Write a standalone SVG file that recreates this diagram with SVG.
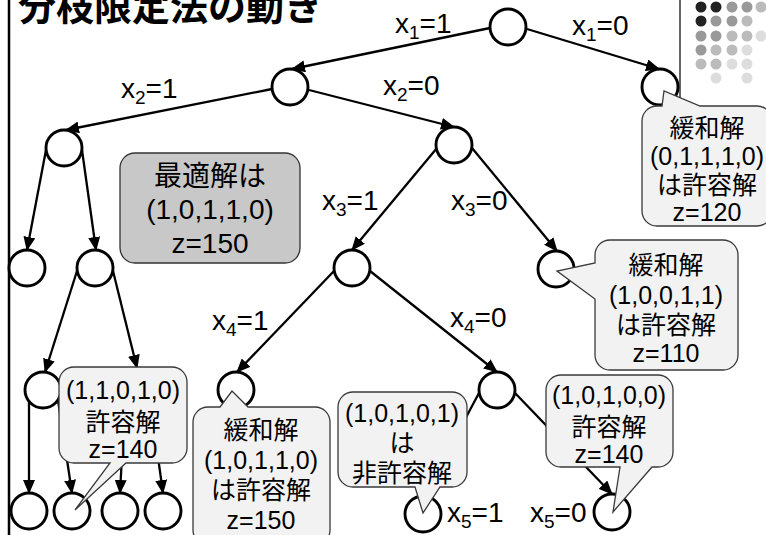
<svg xmlns="http://www.w3.org/2000/svg" width="766" height="535" viewBox="0 0 766 535">
<style>
.n{fill:#fff;stroke:#000;stroke-width:2.9}
.e{stroke:#000;stroke-width:2.3;fill:none;marker-end:url(#ah)}
.lbl{font-family:"Liberation Sans",Arial,sans-serif;font-size:28px;fill:#000}
.co{fill:#f2f2f2;stroke:#3a3a3a;stroke-width:1.3}
.ct{font-family:"Liberation Sans","Noto Sans CJK JP",sans-serif;font-size:25px;text-anchor:middle;fill:#000}
.gt{font-family:"Liberation Sans","Noto Sans CJK JP",sans-serif;font-size:28px;text-anchor:middle;fill:#000}
.d1{fill:#222}.d2{fill:#999}.d3{fill:#bbb}.d4{fill:#ddd}
</style>
<defs>
<marker id="ah" markerUnits="userSpaceOnUse" viewBox="0 0 14 12" refX="13" refY="6" markerWidth="14" markerHeight="12" orient="auto">
<path d="M0,0 L14,6 L0,12 Z" fill="#000"/>
</marker>
</defs>
<rect width="766" height="535" fill="#fff"/>
<g id="frame">
<line x1="9" y1="0" x2="9" y2="535" stroke="#000" stroke-width="2.5"/>
<line x1="680" y1="0" x2="680" y2="110" stroke="#333" stroke-width="1.5"/>
<text x="18" y="20" font-family="'Noto Sans CJK JP',sans-serif" font-weight="bold" font-size="38">分枝限定法の動き</text>
</g>
<g id="dots">
<circle class="d1" cx="701" cy="7" r="5.5"/><circle class="d1" cx="716" cy="7" r="5.5"/><circle class="d2" cx="732" cy="7" r="5.5"/><circle class="d2" cx="747" cy="7" r="5.5"/><circle class="d3" cx="761" cy="7" r="5.5"/>
<circle class="d1" cx="701" cy="21" r="5.5"/><circle class="d2" cx="716" cy="21" r="5.5"/><circle class="d2" cx="732" cy="21" r="5.5"/><circle class="d3" cx="747" cy="21" r="5.5"/>
<circle class="d2" cx="701" cy="36" r="5.5"/><circle class="d2" cx="716" cy="36" r="5.5"/><circle class="d3" cx="732" cy="36" r="5.5"/><circle class="d3" cx="747" cy="36" r="5.5"/><circle class="d4" cx="761" cy="36" r="5.5"/>
<circle class="d2" cx="701" cy="50" r="5.5"/><circle class="d3" cx="716" cy="50" r="5.5"/><circle class="d3" cx="732" cy="50" r="5.5"/><circle class="d4" cx="747" cy="50" r="5.5"/>
<circle class="d3" cx="701" cy="64" r="5.5"/><circle class="d3" cx="716" cy="64" r="5.5"/><circle class="d4" cx="732" cy="64" r="5.5"/><circle class="d4" cx="747" cy="64" r="5.5"/>
<circle class="d4" cx="716" cy="78" r="5.5"/><circle class="d4" cx="747" cy="78" r="5.5"/>
</g>
<g id="connectors">
<line class="e" x1="490" y1="28" x2="292" y2="69"/>
<line class="e" x1="527" y1="29" x2="659" y2="69"/>
<line class="e" x1="272" y1="89" x2="66" y2="130"/>
<line class="e" x1="309" y1="90" x2="454" y2="127"/>
<line class="e" x1="46" y1="150" x2="27" y2="250"/>
<line class="e" x1="82" y1="150" x2="96" y2="250"/>
<line class="e" x1="437" y1="148" x2="352" y2="250"/>
<line class="e" x1="472" y1="148" x2="557" y2="251"/>
<line class="e" x1="77" y1="271" x2="45" y2="372"/>
<line class="e" x1="113" y1="271" x2="137" y2="368"/>
<line class="e" x1="334" y1="271" x2="237" y2="372"/>
<line class="e" x1="370" y1="271" x2="497" y2="372"/>
<line class="e" x1="29" y1="400" x2="29" y2="493"/>
<line class="e" x1="58" y1="400" x2="72" y2="493"/>
<line class="e" x1="125" y1="400" x2="120" y2="493"/>
<line class="e" x1="150" y1="400" x2="163" y2="493"/>
<line class="e" x1="479" y1="393" x2="424" y2="496"/>
<line class="e" x1="515" y1="393" x2="612" y2="494"/>
<text class="lbl" x="395" y="33">x<tspan font-size="19" dy="6">1</tspan><tspan dy="-6">=1</tspan></text>
<text class="lbl" x="572" y="35">x<tspan font-size="19" dy="6">1</tspan><tspan dy="-6">=0</tspan></text>
<text class="lbl" x="121" y="98">x<tspan font-size="19" dy="6">2</tspan><tspan dy="-6">=1</tspan></text>
<text class="lbl" x="383" y="95">x<tspan font-size="19" dy="6">2</tspan><tspan dy="-6">=0</tspan></text>
<text class="lbl" x="322" y="210">x<tspan font-size="19" dy="6">3</tspan><tspan dy="-6">=1</tspan></text>
<text class="lbl" x="451" y="210">x<tspan font-size="19" dy="6">3</tspan><tspan dy="-6">=0</tspan></text>
<text class="lbl" x="212" y="330">x<tspan font-size="19" dy="6">4</tspan><tspan dy="-6">=1</tspan></text>
<text class="lbl" x="450" y="327">x<tspan font-size="19" dy="6">4</tspan><tspan dy="-6">=0</tspan></text>
<text class="lbl" x="447" y="522">x<tspan font-size="19" dy="6">5</tspan><tspan dy="-6">=1</tspan></text>
<text class="lbl" x="530" y="522">x<tspan font-size="19" dy="6">5</tspan><tspan dy="-6">=0</tspan></text>
</g>
<g id="n0"><circle class="n" cx="508" cy="27" r="18"/></g>
<g id="n1"><circle class="n" cx="660" cy="87" r="18"/></g>
<g id="n2"><circle class="n" cx="290" cy="87" r="18"/></g>
<g id="n3"><circle class="n" cx="64" cy="148" r="18"/></g>
<g id="n4"><circle class="n" cx="454" cy="145" r="18"/></g>
<g id="n5"><circle class="n" cx="27" cy="268" r="18"/></g>
<g id="n6"><circle class="n" cx="95" cy="268" r="18"/></g>
<g id="n7"><circle class="n" cx="352" cy="268" r="18"/></g>
<g id="n8"><circle class="n" cx="556" cy="269" r="18"/></g>
<g id="n9"><circle class="n" cx="43" cy="390" r="18"/></g>
<g id="n11"><circle class="n" cx="236" cy="390" r="18"/></g>
<g id="n12"><circle class="n" cx="497" cy="390" r="18"/></g>
<g id="n13"><circle class="n" cx="423" cy="514" r="18"/></g>
<g id="n14"><circle class="n" cx="612" cy="512" r="18"/></g>
<g id="b1"><circle class="n" cx="29" cy="511" r="18"/></g>
<g id="b2"><circle class="n" cx="72" cy="511" r="18"/></g>
<g id="b3"><circle class="n" cx="120" cy="511" r="18"/></g>
<g id="b4"><circle class="n" cx="163" cy="511" r="18"/></g>
<g id="optimum">
<rect x="120" y="153" width="180" height="110" rx="15" fill="#c8c8c8" stroke="#333" stroke-width="1.3"/>
<text class="gt" x="210" y="186">最適解は</text>
<text class="gt" x="210" y="219">(1,0,1,1,0)</text>
<text class="gt" x="210" y="253">z=150</text>
</g>
<g id="calloutA">
<path class="co" d="M657,106 H662 L664,91 L700,106 H757 A15 15 0 0 1 772,121 V211 A15 15 0 0 1 757,226 H657 A15 15 0 0 1 642,211 V121 A15 15 0 0 1 657,106 Z"/>
<text class="ct" x="707" y="137">緩和解</text>
<text class="ct" x="707" y="165">(0,1,1,1,0)</text>
<text class="ct" x="707" y="194">は許容解</text>
<text class="ct" x="707" y="221">z=120</text>
</g>
<g id="calloutB">
<path class="co" d="M610,240 H723 A15 15 0 0 1 738,255 V355 A15 15 0 0 1 723,370 H610 A15 15 0 0 1 595,355 V299 L557,271 L595,263 V255 A15 15 0 0 1 610,240 Z"/>
<text class="ct" x="666" y="274">緩和解</text>
<text class="ct" x="666" y="304">(1,0,0,1,1)</text>
<text class="ct" x="666" y="334">は許容解</text>
<text class="ct" x="666" y="362">z=110</text>
</g>
<g id="calloutC">
<path class="co" d="M74,367 H172 A15 15 0 0 1 187,382 V448 A15 15 0 0 1 172,463 H126 L75,510 L110,463 H74 A15 15 0 0 1 59,448 V382 A15 15 0 0 1 74,367 Z"/>
<text class="ct" x="123" y="399">(1,1,0,1,0)</text>
<text class="ct" x="123" y="431">許容解</text>
<text class="ct" x="123" y="458">z=140</text>
</g>
<g id="calloutD">
<path class="co" d="M208,407 H220 L232,391 L248,407 H315 A15 15 0 0 1 330,422 V530 A15 15 0 0 1 315,545 H208 A15 15 0 0 1 193,530 V422 A15 15 0 0 1 208,407 Z"/>
<text class="ct" x="261" y="439">緩和解</text>
<text class="ct" x="261" y="469">(1,0,1,1,0)</text>
<text class="ct" x="261" y="499">は許容解</text>
<text class="ct" x="261" y="529">z=150</text>
</g>
<g id="calloutE">
<path class="co" d="M353,392 H452 A15 15 0 0 1 467,407 V472 A15 15 0 0 1 452,487 H440 L423,513 L415,487 H353 A15 15 0 0 1 338,472 V407 A15 15 0 0 1 353,392 Z"/>
<text class="ct" x="402" y="422">(1,0,1,0,1)</text>
<text class="ct" x="402" y="452">は</text>
<text class="ct" x="402" y="482">非許容解</text>
</g>
<g id="calloutF">
<path class="co" d="M561,375 H658 A15 15 0 0 1 673,390 V452 A15 15 0 0 1 658,467 H652 L613,512 L620,467 H561 A15 15 0 0 1 546,452 V390 A15 15 0 0 1 561,375 Z"/>
<text class="ct" x="609" y="404">(1,0,1,0,0)</text>
<text class="ct" x="609" y="436">許容解</text>
<text class="ct" x="609" y="463">z=140</text>
</g>
</svg>
